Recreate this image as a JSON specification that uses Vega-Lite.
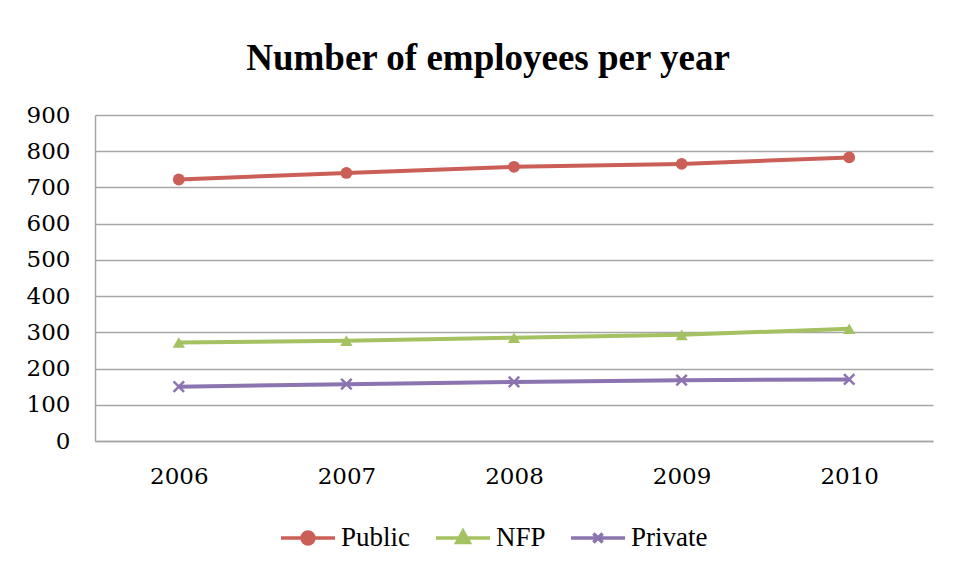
{
  "$schema": "https://vega.github.io/schema/vega-lite/v6.json",
  "width": 838,
  "height": 326,
  "autosize": {"type": "none"},
  "padding": {"left": 95, "top": 115, "right": 23, "bottom": 140},
  "background": "white",
  "title": {
    "text": "Number of  employees per year",
    "font": "Liberation Serif",
    "fontSize": 37,
    "fontWeight": "bold",
    "color": "black",
    "anchor": "middle",
    "frame": "group",
    "dx": -26,
    "baseline": "alphabetic",
    "offset": -3
  },
  "config": {
    "view": {"stroke": null},
    "axis": {
      "labelFont": "DejaVu Serif",
      "labelFontSize": 23,
      "labelColor": "black",
      "domainColor": "#a6a6a6",
      "domainWidth": 1.5,
      "gridColor": "#a6a6a6",
      "gridWidth": 1.5,
      "gridOpacity": 1,
      "ticks": false,
      "title": null
    }
  },
  "data": {
    "values": [
      {"year": "2006", "series": "Public", "value": 722},
      {"year": "2007", "series": "Public", "value": 740},
      {"year": "2008", "series": "Public", "value": 757},
      {"year": "2009", "series": "Public", "value": 765},
      {"year": "2010", "series": "Public", "value": 783},
      {"year": "2006", "series": "NFP", "value": 272},
      {"year": "2007", "series": "NFP", "value": 277},
      {"year": "2008", "series": "NFP", "value": 285},
      {"year": "2009", "series": "NFP", "value": 293},
      {"year": "2010", "series": "NFP", "value": 310},
      {"year": "2006", "series": "Private", "value": 150},
      {"year": "2007", "series": "Private", "value": 157},
      {"year": "2008", "series": "Private", "value": 163},
      {"year": "2009", "series": "Private", "value": 168},
      {"year": "2010", "series": "Private", "value": 170}
    ]
  },
  "encoding": {
    "x": {
      "field": "year",
      "type": "ordinal",
      "axis": {"labelAngle": 0, "labelPadding": 24, "grid": false}
    },
    "y": {
      "field": "value",
      "type": "quantitative",
      "scale": {"domain": [0, 900], "nice": false},
      "axis": {"values": [0, 100, 200, 300, 400, 500, 600, 700, 800, 900], "labelPadding": 25}
    }
  },
  "layer": [
    {
      "mark": {"type": "line", "strokeWidth": 4},
      "encoding": {
        "color": {
          "field": "series",
          "type": "nominal",
          "scale": {"domain": ["Public", "NFP", "Private"], "range": ["#cb5f58", "#a5c262", "#8c74b0"]},
          "legend": {
            "title": null,
            "orient": "none",
            "direction": "horizontal",
            "legendX": 184,
            "legendY": 394,
            "labelFont": "Liberation Serif",
            "labelFontSize": 27,
            "labelColor": "black",
            "labelOffset": 4,
            "columnPadding": 18,
            "symbolSize": 2916,
            "symbolStrokeWidth": 3.5,
            "encode": {
              "symbols": {
                "update": {
                  "shape": {"signal": "datum.value === 'Public' ? 'M-1,0L1,0M-0.22,0A0.22,0.22 0 1,1 0.22,0A0.22,0.22 0 1,1 -0.22,0Z' : datum.value === 'NFP' ? 'M-1,0L1,0M-0.23,0.17L0,-0.25L0.23,0.17Z' : 'M-1,0L1,0M-0.17,-0.17L0.17,0.17M-0.17,0.17L0.17,-0.17'"},
                  "fill": {"signal": "scale('color', datum.value)"},
                  "stroke": {"signal": "scale('color', datum.value)"}
                }
              }
            }
          }
        }
      }
    },
    {
      "transform": [{"filter": "datum.series === 'Public'"}],
      "mark": {"type": "point", "shape": "circle", "filled": true, "opacity": 1, "color": "#cb5f58", "size": 140}
    },
    {
      "transform": [{"filter": "datum.series === 'NFP'"}],
      "mark": {"type": "point", "shape": "triangle-up", "filled": true, "opacity": 1, "color": "#a5c262", "size": 150}
    },
    {
      "transform": [{"filter": "datum.series === 'Private'"}],
      "mark": {"type": "point", "shape": "M-1,-1L1,1M-1,1L1,-1", "filled": false, "opacity": 1, "color": "#8c74b0", "strokeWidth": 2.5, "size": 110}
    }
  ]
}
